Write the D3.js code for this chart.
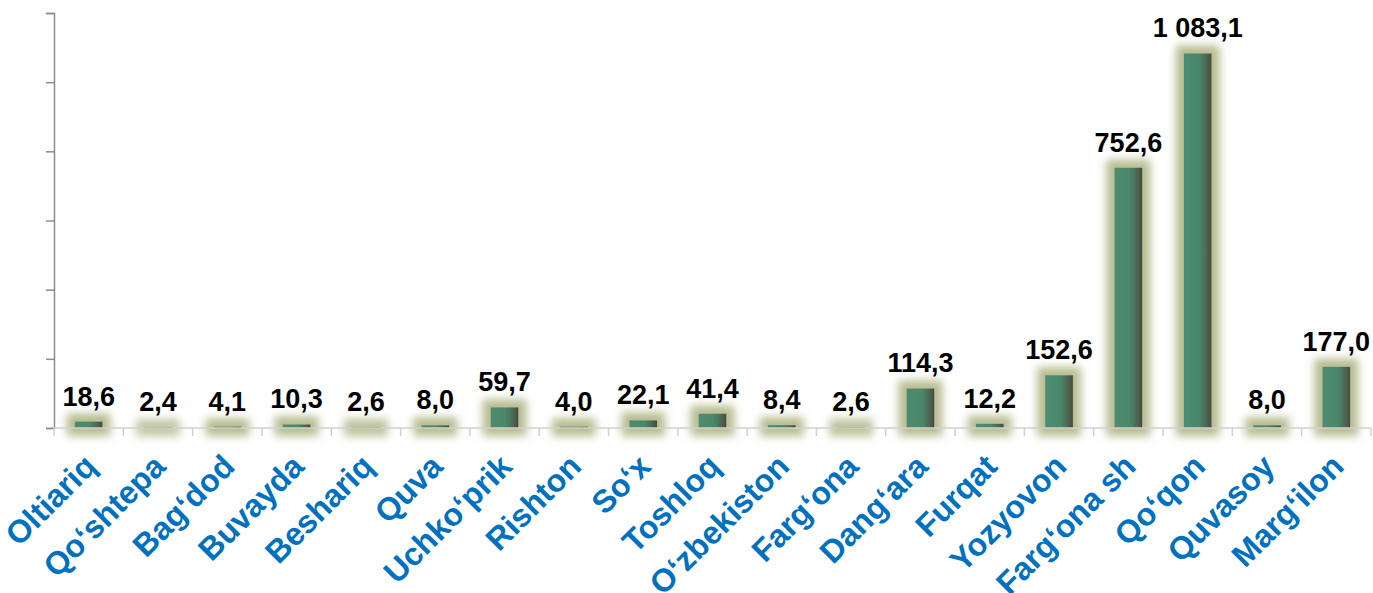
<!DOCTYPE html>
<html>
<head>
<meta charset="utf-8">
<script src="https://cdn.jsdelivr.net/npm/d3@7"></script>
<style>
  body { margin: 0; background: #fff; }
  svg { display: block; font-family: Arial, "Liberation Sans", sans-serif; }
</style>
</head>
<body>
<div id="chart"></div>
<script>
// Chart data
const categories = ['Oltiariq', 'Qo\u02bbshtepa', 'Bag\u02bbdod', 'Buvayda', 'Beshariq', 'Quva', 'Uchko\u02bbprik',
    'Rishton', 'So\u02bbx', 'Toshloq', 'O\u02bbzbekiston', 'Farg\u02bbona', 'Dang\u02bbara', 'Furqat',
    'Yozyovon', 'Farg\u02bbona sh', 'Qo\u02bbqon', 'Quvasoy', 'Marg\u02bbilon'];
const values = [18.6, 2.4, 4.1, 10.3, 2.6, 8.0, 59.7, 4.0, 22.1, 41.4, 8.4, 2.6, 114.3, 12.2,
    152.6, 752.6, 1083.1, 8.0, 177.0];
const yTicks = [0, 200, 400, 600, 800, 1000, 1200];

const W = 1373, H = 593;
const margin = { top: 13, right: 2, bottom: 165, left: 54 };
const width = W - margin.left - margin.right;
const height = H - margin.top - margin.bottom;

const svg = d3.select('#chart')
    .append('svg')
    .attr('width', W)
    .attr('height', H);

// Filters and gradient for the bars
const defs = svg.append('defs');

const glow = defs.append('filter')
    .attr('id', 'glow')
    .attr('filterUnits', 'userSpaceOnUse')
    .attr('x', 0).attr('y', 0)
    .attr('width', W).attr('height', H);
glow.append('feMorphology')
    .attr('in', 'SourceAlpha')
    .attr('operator', 'dilate')
    .attr('radius', 8)
    .attr('result', 'fat');
glow.append('feGaussianBlur')
    .attr('in', 'fat')
    .attr('stdDeviation', 4.5)
    .attr('result', 'blur');
glow.append('feFlood')
    .attr('flood-color', '#b3b98a')
    .attr('flood-opacity', 0.95);
glow.append('feComposite')
    .attr('in2', 'blur')
    .attr('operator', 'in')
    .attr('result', 'glowColor');
const merge = glow.append('feMerge');
merge.append('feMergeNode').attr('in', 'glowColor');
merge.append('feMergeNode').attr('in', 'SourceGraphic');

const grad = defs.append('linearGradient')
    .attr('id', 'barGrad')
    .attr('x1', '0%').attr('x2', '100%')
    .attr('y1', '0%').attr('y2', '0%');
grad.append('stop').attr('offset', '0%').attr('stop-color', '#4c8c70');
grad.append('stop').attr('offset', '55%').attr('stop-color', '#4a876b');
grad.append('stop').attr('offset', '80%').attr('stop-color', '#4b6a55');
grad.append('stop').attr('offset', '100%').attr('stop-color', '#4a4a3c');

const g = svg.append('g')
    .attr('transform', `translate(${margin.left},${margin.top})`);

// Scales
const x = d3.scaleBand()
    .domain(categories)
    .range([0, width])
    .paddingInner(0.6)
    .paddingOuter(0.3);

const y = d3.scaleLinear()
    .domain([0, 1200])
    .range([height, 0]);

// Y axis (no labels)
const yAxis = d3.axisLeft(y)
    .tickValues(yTicks)
    .tickSize(8)
    .tickFormat('');

g.append('g')
    .attr('class', 'y-axis')
    .call(yAxis)
    .call(s => s.select('.domain').attr('stroke', '#8c8c8c').attr('stroke-width', 1.5))
    .call(s => s.selectAll('.tick line').attr('stroke', '#8c8c8c').attr('stroke-width', 1.5));

// Bars
g.selectAll('.bar')
    .data(values)
    .enter()
    .append('rect')
    .attr('class', 'bar')
    .attr('x', (d, i) => x(categories[i]))
    .attr('width', x.bandwidth())
    .attr('y', d => y(d))
    .attr('height', d => Math.max(height - y(d), 1))
    .attr('fill', 'url(#barGrad)')
    .attr('filter', 'url(#glow)');

// X axis line and category separators
const step = width / categories.length;
const xAxisG = g.append('g')
    .attr('class', 'x-axis')
    .attr('transform', `translate(0,${height})`);

xAxisG.append('line')
    .attr('x1', 0).attr('x2', width)
    .attr('stroke', '#d0d0d0')
    .attr('stroke-width', 1.5);

xAxisG.selectAll('.sep')
    .data(d3.range(categories.length + 1))
    .enter()
    .append('line')
    .attr('class', 'sep')
    .attr('x1', i => i * step).attr('x2', i => i * step)
    .attr('y1', 0).attr('y2', 8)
    .attr('stroke', '#d0d0d0')
    .attr('stroke-width', 1.5);

// Category labels
xAxisG.selectAll('.cat-label')
    .data(categories)
    .enter()
    .append('text')
    .attr('class', 'cat-label')
    .attr('transform', d => `translate(${x(d) + x.bandwidth() / 2 - 7},${24}) rotate(-45)`)
    .attr('text-anchor', 'end')
    .attr('dy', '0.72em')
    .style('font-size', '32px')
    .style('font-weight', 'bold')
    .style('fill', '#0070c0')
    .text(d => d);

// Value labels
const fmt = v => {
    const s = v.toFixed(1).replace('.', ',');
    const [intPart, dec] = s.split(',');
    return intPart.replace(/\B(?=(\d{3})+(?!\d))/g, ' ') + ',' + dec;
};

g.selectAll('.value-label')
    .data(values)
    .enter()
    .append('text')
    .attr('class', 'value-label')
    .attr('x', (d, i) => x(categories[i]) + x.bandwidth() / 2)
    .attr('y', d => y(d) - 16)
    .attr('text-anchor', 'middle')
    .style('font-size', '27px')
    .style('font-weight', 'bold')
    .style('fill', '#000')
    .text(d => fmt(d));
</script>
</body>
</html>
